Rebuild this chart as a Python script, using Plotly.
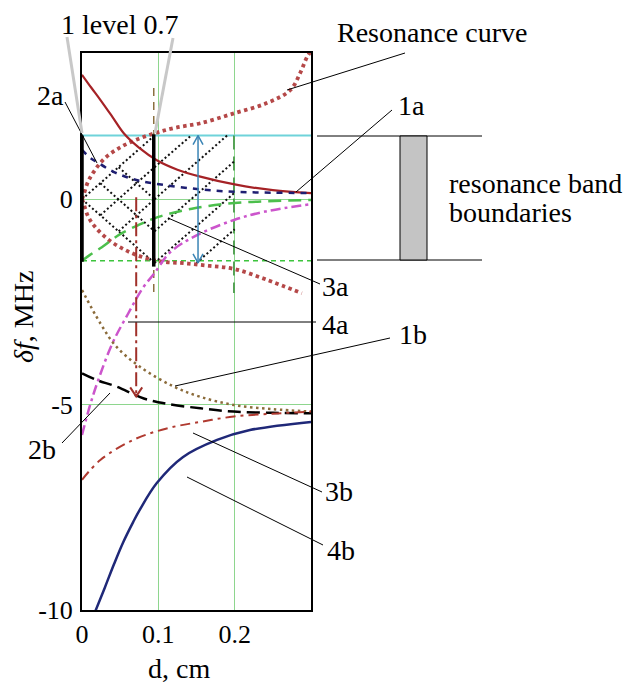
import plotly.graph_objects as go

# ---------------- data ----------------
x_ticks = [0, 0.1, 0.2]
x_tick_text = ["0", "0.1", "0.2"]
y_ticks = [0, -5, -10]
y_tick_text = ["0", "-5", "-10"]
x_range = [0, 0.3]
y_range = [-10, 3.56]

band_top = 1.55
band_bottom = -1.5

# resonance curve (two branches)
res_up_x = [0, 0.002, 0.008, 0.017, 0.030, 0.048, 0.070, 0.096, 0.122, 0.155, 0.199, 0.242, 0.273, 0.286, 0.295, 0.300]
res_up_y = [0, 0.10, 0.43, 0.71, 1.00, 1.24, 1.44, 1.61, 1.74, 1.85, 2.09, 2.34, 2.66, 3.08, 3.47, 3.60]
res_lo_x = [0, 0.002, 0.008, 0.017, 0.035, 0.056, 0.078, 0.105, 0.135, 0.166, 0.200, 0.242, 0.288]
res_lo_y = [0, -0.10, -0.42, -0.67, -0.99, -1.23, -1.40, -1.52, -1.56, -1.62, -1.70, -1.96, -2.29]

# "a" family (upper)
c1a_x = [0, 0.012, 0.024, 0.040, 0.055, 0.075, 0.098, 0.125, 0.155, 0.200, 0.250, 0.300]
c1a_y = [3.03, 2.72, 2.42, 2.00, 1.60, 1.25, 0.95, 0.72, 0.55, 0.36, 0.22, 0.15]
c2a_x = [0, 0.010, 0.020, 0.040, 0.060, 0.080, 0.110, 0.155, 0.200, 0.250, 0.300]
c2a_y = [1.20, 1.02, 0.90, 0.68, 0.53, 0.43, 0.34, 0.24, 0.18, 0.16, 0.15]
c3a_x = [0, 0.010, 0.026, 0.050, 0.075, 0.100, 0.144, 0.200, 0.300]
c3a_y = [-1.50, -1.36, -1.17, -0.85, -0.62, -0.43, -0.23, -0.09, -0.02]
c4a_x = [0, 0.010, 0.020, 0.040, 0.060, 0.080, 0.095, 0.115, 0.150, 0.200, 0.240, 0.300]
c4a_y = [-5.74, -5.05, -4.47, -3.50, -2.80, -2.15, -1.80, -1.30, -0.88, -0.50, -0.30, -0.12]

# "b" family (lower)
c1b_x = [0, 0.024, 0.045, 0.076, 0.120, 0.155, 0.199, 0.250, 0.300]
c1b_y = [-2.21, -3.02, -3.59, -4.08, -4.56, -4.81, -5.01, -5.11, -5.17]
c2b_x = [0, 0.019, 0.045, 0.081, 0.111, 0.155, 0.199, 0.250, 0.300]
c2b_y = [-4.24, -4.40, -4.56, -4.85, -4.98, -5.09, -5.17, -5.20, -5.21]
c3b_x = [0, 0.024, 0.067, 0.111, 0.155, 0.199, 0.250, 0.300]
c3b_y = [-6.83, -6.35, -5.86, -5.58, -5.42, -5.29, -5.22, -5.17]
c4b_x = [0.017, 0.030, 0.042, 0.054, 0.067, 0.076, 0.098, 0.132, 0.177, 0.220, 0.300]
c4b_y = [-10.05, -9.45, -8.88, -8.35, -7.86, -7.55, -6.91, -6.28, -5.86, -5.62, -5.42]

# ray lattice (dotted segments)
lat_x0 = [0, 0.024, 0.048, 0, 0.024, 0.048, 0.095, 0.095, 0.095, 0.095, 0.150]
lat_y0 = [0, -0.39, -0.78, 0, 0.39, 0.78, 0.78, 0, -0.78, -1.55, -1.55]
lat_x1 = [0.095, 0.095, 0.095, 0.095, 0.095, 0.095, 0.143, 0.190, 0.200, 0.200, 0.200]
lat_y1 = [1.55, 0.78, 0, -1.55, -0.78, 0, 1.55, 1.55, 0.93, 0.16, -0.73]

# vertical markers
level1_x, level1_y = 0.0, [-1.52, 1.55]
level07_x, level07_y = 0.094, [-1.64, 1.58]
brown_v_x, brown_v_y = 0.094, [2.71, -2.28]
green_v_x, green_v_y = 0.199, [1.55, -2.28]
red_arrow_x, red_arrow_y = 0.071, [0.05, -4.80]
blue_arrow_x, blue_arrow_y = 0.152, [1.55, -1.55]

FONT = "Liberation Serif"

# ---------------- figure ----------------
fig = go.Figure()


def add_line(x, y, color, width, dash="solid", shape="spline"):
    fig.add_trace(go.Scatter(x=x, y=y, mode="lines",
                             line=dict(color=color, width=width, dash=dash, shape=shape),
                             hoverinfo="skip", showlegend=False))


# band boundaries
add_line([x_range[0], x_range[1]], [band_top, band_top], "#6FD3DA", 2, shape="linear")
add_line([x_range[0], x_range[1]], [band_bottom, band_bottom], "#3DC43D", 1.5, "5px,4px", "linear")

# vertical helper lines
add_line([green_v_x, green_v_x], green_v_y, "#3A8F3A", 1.5, "14px,7px", "linear")
add_line([brown_v_x, brown_v_x], brown_v_y, "#8B7040", 1.5, "8px,6px", "linear")

# ray lattice
lx, ly = [], []
for a, b, c, d in zip(lat_x0, lat_y0, lat_x1, lat_y1):
    lx += [a, c, None]
    ly += [b, d, None]
add_line(lx, ly, "#111111", 2, "2px,2.5px", "linear")

# resonance curve
add_line(res_up_x, res_up_y, "#B54848", 3.8, "3.5px,3.5px")
add_line(res_lo_x, res_lo_y, "#B54848", 3.8, "3.5px,3.5px")

# curves
add_line(c1a_x, c1a_y, "#A52226", 2.2)
add_line(c2a_x, c2a_y, "#1E1E72", 2.5, "6px,6px")
add_line(c3a_x, c3a_y, "#4CBF4C", 2.5, "13px,7px")
add_line(c4a_x, c4a_y, "#CC55CC", 2.5, "10px,4px,3px,4px")
add_line(c1b_x, c1b_y, "#8B6B3A", 2.5, "2.5px,3.5px")
add_line(c2b_x, c2b_y, "#000000", 2.5, "13px,6px")
add_line(c3b_x, c3b_y, "#B03A30", 2, "10px,5px,3px,5px")
add_line(c4b_x, c4b_y, "#1F2878", 2.5)

# thick vertical lines (levels)
add_line([level1_x, level1_x], level1_y, "#000000", 3.5, shape="linear")
add_line([level07_x, level07_x], level07_y, "#000000", 3.5, shape="linear")

# axis scales (px per unit) for arrowheads
plot_w, plot_h = 229, 557
sx = plot_w / (x_range[1] - x_range[0])
sy = plot_h / (y_range[1] - y_range[0])

# red dash-dot arrow
add_line([red_arrow_x, red_arrow_x], red_arrow_y, "#A0302A", 2, "14px,4px,3px,4px", "linear")
hx, hy = 6 / sx, 9 / sy
tip = red_arrow_y[1]
add_line([red_arrow_x - hx, red_arrow_x, red_arrow_x + hx], [tip + hy, tip, tip + hy], "#A0302A", 2, shape="linear")

# blue double arrow
add_line([blue_arrow_x, blue_arrow_x], blue_arrow_y, "#3A84B5", 1.5, shape="linear")
hx, hy = 5 / sx, 9 / sy
t, b = blue_arrow_y
add_line([blue_arrow_x - hx, blue_arrow_x, blue_arrow_x + hx], [t - hy, t, t - hy], "#3A84B5", 1.5, shape="linear")
add_line([blue_arrow_x - hx, blue_arrow_x, blue_arrow_x + hx], [b + hy, b, b + hy], "#3A84B5", 1.5, shape="linear")


# ---------------- annotations (page pixel positions) ----------------
L, T, R, B = 82, 53, 311, 610


def P(px, py):
    return (px - L) / (R - L), (B - py) / (B - T)


shapes = []


def seg(p0, p1, color="#000000", width=1):
    x0, y0 = P(*p0)
    x1, y1 = P(*p1)
    shapes.append(dict(type="line", xref="paper", yref="paper", x0=x0, y0=y0, x1=x1, y1=y1,
                       line=dict(color=color, width=width)))


seg((405, 53), (287, 90))      # Resonance curve
seg((392, 110), (296, 192))    # 1a
seg((65, 102), (97, 163))      # 2a
seg((320, 284), (168, 218))    # 3a
seg((316, 322), (128, 322))    # 4a
seg((390, 338), (175, 386))    # 1b
seg((62, 443), (110, 393))     # 2b
seg((322, 492), (193, 433))    # 3b
seg((323, 545), (187, 477))    # 4b
seg((67, 37), (82, 133), "#C8C8C8", 3)
seg((173, 38), (155, 133), "#C8C8C8", 3)
seg((317, 136), (482, 136))
seg((317, 260), (482, 260))
rx0, ry0 = P(400, 136)
rx1, ry1 = P(427, 260)
shapes.append(dict(type="rect", xref="paper", yref="paper", x0=rx0, y0=ry1, x1=rx1, y1=ry0,
                   fillcolor="#C4C4C4", line=dict(color="#000000", width=1)))

annots = []


def text(s, px, py, size=28, xanchor="center", angle=0):
    x, y = P(px, py)
    annots.append(dict(text=s, x=x, y=y, xref="paper", yref="paper", showarrow=False,
                       xanchor=xanchor, yanchor="middle", textangle=angle,
                       font=dict(family=FONT, size=size, color="#000000")))


text("1 level 0.7", 119, 24)
text("Resonance curve", 432, 32)
text("1a", 411, 106)
text("2a", 50, 95)
text("3a", 335, 286)
text("4a", 335, 324)
text("1b", 413, 334)
text("2b", 42, 449)
text("3b", 339, 491)
text("4b", 341, 550)
text("resonance band", 447, 183, xanchor="left")
text("boundaries", 447, 213, xanchor="left")
text("<i>δf</i>, MHz", 23, 317, angle=-90)
text("d, cm", 179, 668)

axis_common = dict(showline=True, mirror=True, linecolor="#000000", linewidth=2,
                   showgrid=True, gridcolor="#8ED68E", gridwidth=1, zeroline=False,
                   ticks="", tickfont=dict(family=FONT, size=26, color="#000000"))

fig.update_layout(
    width=625, height=686, autosize=False,
    margin=dict(l=L, r=625 - R, t=T, b=686 - B, pad=0),
    paper_bgcolor="white", plot_bgcolor="white",
    xaxis=dict(range=x_range, tickvals=x_ticks, ticktext=x_tick_text, **axis_common),
    yaxis=dict(range=y_range, tickvals=y_ticks, ticktext=y_tick_text, ticklabelstandoff=2, **axis_common),
    shapes=shapes, annotations=annots, showlegend=False,
)

fig.write_html("out.html", config={"displayModeBar": False},
               post_script="document.body.style.margin='0';document.body.style.overflow='hidden';")
